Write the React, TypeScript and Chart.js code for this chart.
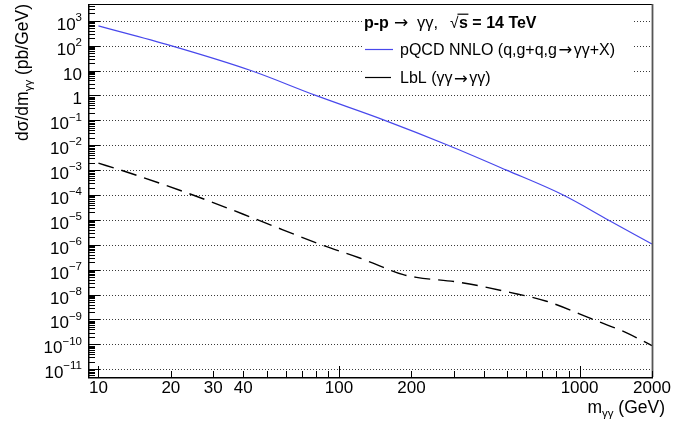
import React, { useEffect, useRef } from 'react';
import { Chart, registerables } from 'chart.js';

Chart.register(...registerables);

// ---- data ----
const massPQCD = [10, 20, 43, 80, 155, 284, 497, 855, 1316, 2000];
const xsecPQCD = [620, 100, 10, 1, 0.1, 0.01, 1e-3, 1e-4, 1e-5, 1.07e-6];

const massLbL = [10, 12.4, 24.7, 46, 84.5, 122, 141, 185, 210, 318, 513, 729, 1140, 1570, 2000];
const xsecLbL = [1.9e-3, 1e-3, 1e-4, 1e-5, 1e-6, 2.95e-7, 1.7e-7, 6.3e-8, 4.9e-8, 3.1e-8, 1.23e-8, 5.4e-9, 1e-9, 2.9e-10, 8.9e-11];

const yDecadeExponents = [3, 2, 1, 0, -1, -2, -3, -4, -5, -6, -7, -8, -9, -10, -11];
const xTickLabels = [10, 20, 30, 40, 100, 200, 1000, 2000];
const xMajorTicks = [10, 100, 1000];

const labelPQCD = 'pQCD NNLO (q,g+q,g\u2192\u03b3\u03b3+X)';
const labelLbL = 'LbL (\u03b3\u03b3\u2192\u03b3\u03b3)';

const X_MIN = 9.05;
const X_MAX = 2020;
const Y_MIN = 4.9e-12;
const Y_MAX = 4700;

const BLUE = 'rgb(72,72,236)';
const FONT = '"Liberation Sans", Arial, Helvetica, sans-serif';
const ARROW_FONT = '"DejaVu Sans", sans-serif';

type Part = { text: string; font: string; dy?: number; overline?: boolean; pad?: number; at?: number };

function richWidth(ctx: CanvasRenderingContext2D, parts: Part[]) {
  let w = 0;
  for (const p of parts) {
    ctx.font = p.font;
    w += ctx.measureText(p.text).width + 2 * (p.pad || 0);
  }
  return w;
}

function drawRich(ctx: CanvasRenderingContext2D, parts: Part[], x: number, y: number, align: 'left' | 'right' | 'center') {
  const w = richWidth(ctx, parts);
  let cx = align === 'left' ? x : align === 'right' ? x - w : x - w / 2;
  ctx.textAlign = 'left';
  ctx.textBaseline = 'alphabetic';
  for (const p of parts) {
    ctx.font = p.font;
    if (p.at !== undefined) cx = p.at;
    const pad = p.pad || 0;
    cx += pad;
    const pw = ctx.measureText(p.text).width;
    ctx.fillText(p.text, cx, y + (p.dy || 0));
    if (p.overline) {
      ctx.save();
      ctx.lineWidth = 1.2;
      ctx.beginPath();
      ctx.moveTo(cx - 1.5, y - 13.3);
      ctx.lineTo(cx + pw + 0.5, y - 13.3);
      ctx.stroke();
      ctx.restore();
    }
    cx += pw + pad;
  }
}

function expParts(e: number): Part[] {
  if (e === 0) return [{ text: '1', font: `17px ${FONT}` }];
  if (e === 1) return [{ text: '10', font: `17px ${FONT}` }];
  const s = e < 0 ? '\u2212' + String(-e) : String(e);
  return [
    { text: '10', font: `17px ${FONT}` },
    { text: s, font: `11.5px ${FONT}`, dy: -8.8 },
  ];
}

function entryParts(text: string): Part[] {
  const pieces = text.split('\u2192');
  const parts: Part[] = [];
  pieces.forEach((p, i) => {
    if (i > 0) parts.push({ text: '\u2192', font: `16.5px ${ARROW_FONT}`, dy: 0.5, pad: 1.5 });
    parts.push({ text: p, font: `16px ${FONT}` });
  });
  return parts;
}

const rootDecor = {
  id: 'rootDecor',
  beforeDatasetsDraw(chart: any) {
    const { ctx, chartArea: a, scales } = chart;
    const y = scales.y;
    ctx.save();
    ctx.fillStyle = '#ffffff';
    ctx.fillRect(0, 0, chart.width, chart.height);
    ctx.strokeStyle = '#3a3a3a';
    ctx.lineWidth = 1;
    ctx.setLineDash([1, 2]);
    for (const e of yDecadeExponents) {
      const py = Math.round(y.getPixelForValue(Math.pow(10, e))) + 0.5;
      ctx.beginPath();
      ctx.moveTo(a.left, py);
      ctx.lineTo(a.right, py);
      ctx.stroke();
    }
    ctx.restore();
  },
  afterDatasetsDraw(chart: any) {
    const { ctx, chartArea: a, scales } = chart;
    const x = scales.x;
    const y = scales.y;
    ctx.save();

    // legend box
    ctx.fillStyle = '#ffffff';
    ctx.fillRect(362, 6, 272, 82);
    ctx.fillStyle = '#000000';
    ctx.strokeStyle = '#000000';
    drawRich(
      ctx,
      [
        { text: 'p-p', font: `bold 16px ${FONT}`, at: 364 },
        { text: '\u2192', font: `17px ${ARROW_FONT}`, dy: 0.5, at: 394 },
        { text: '\u03b3\u03b3,', font: `16.5px ${FONT}`, at: 417 },
        { text: '\u221a', font: `15.5px ${FONT}`, at: 450 },
        { text: 's', font: `bold 16px ${FONT}`, overline: true, at: 459 },
        { text: ' = 14 TeV', font: `bold 16px ${FONT}` },
      ],
      364,
      27.5,
      'left'
    );
    ctx.lineWidth = 1.2;
    ctx.strokeStyle = BLUE;
    ctx.beginPath();
    ctx.moveTo(365, 49.5);
    ctx.lineTo(393, 49.5);
    ctx.stroke();
    ctx.strokeStyle = '#000000';
    ctx.beginPath();
    ctx.moveTo(365, 77.5);
    ctx.lineTo(391, 77.5);
    ctx.stroke();
    drawRich(ctx, entryParts(labelPQCD), 400, 54.5, 'left');
    drawRich(ctx, entryParts(labelLbL), 400, 83, 'left');

    // frame
    ctx.setLineDash([]);
    ctx.strokeStyle = '#000000';
    ctx.lineWidth = 1;
    ctx.strokeRect(a.left + 0.5, a.top + 0.5, a.right - a.left - 1, a.bottom - a.top);
    ctx.lineWidth = 1.5;
    ctx.beginPath();
    ctx.moveTo(a.left + 0.75, a.top);
    ctx.lineTo(a.left + 0.75, a.bottom + 0.75);
    ctx.lineTo(a.right, a.bottom + 0.75);
    ctx.stroke();
    ctx.lineWidth = 1.8;
    ctx.strokeStyle = '#555555';
    ctx.beginPath();
    ctx.moveTo(a.right - 0.5, a.top);
    ctx.lineTo(a.right - 0.5, a.bottom);
    ctx.stroke();

    // y ticks
    ctx.strokeStyle = '#000000';
    ctx.lineWidth = 1;
    for (let e = -12; e <= 3; e++) {
      for (let k = 1; k <= 9; k++) {
        const v = k * Math.pow(10, e);
        if (v < Y_MIN || v > Y_MAX) continue;
        const py = Math.round(y.getPixelForValue(v)) + 0.5;
        const len = k === 1 ? 12 : 7;
        ctx.beginPath();
        ctx.moveTo(a.left, py);
        ctx.lineTo(a.left + len, py);
        ctx.stroke();
      }
    }
    // x ticks
    for (let e = 0; e <= 3; e++) {
      for (let k = 1; k <= 9; k++) {
        const v = k * Math.pow(10, e);
        if (v < X_MIN || v > X_MAX) continue;
        const px = Math.round(x.getPixelForValue(v)) + 0.5;
        const len = xMajorTicks.includes(v) ? 11 : 6;
        ctx.beginPath();
        ctx.moveTo(px, a.bottom);
        ctx.lineTo(px, a.bottom - len);
        ctx.stroke();
      }
    }

    // y tick labels
    ctx.fillStyle = '#000000';
    for (const e of yDecadeExponents) {
      const py = y.getPixelForValue(Math.pow(10, e));
      drawRich(ctx, expParts(e), 82, py + 9, 'right');
    }
    // x tick labels
    ctx.font = `17px ${FONT}`;
    ctx.textAlign = 'center';
    ctx.textBaseline = 'alphabetic';
    for (const v of xTickLabels) {
      const px = x.getPixelForValue(v);
      ctx.fillText(String(v), px, 393);
    }

    // x title
    drawRich(
      ctx,
      [
        { text: 'm', font: `17.5px ${FONT}` },
        { text: '\u03b3\u03b3', font: `11.5px ${FONT}`, dy: 3.5 },
        { text: ' (GeV)', font: `17.5px ${FONT}` },
      ],
      665,
      413,
      'right'
    );

    // y title (rotated)
    ctx.save();
    ctx.translate(28, 4);
    ctx.rotate(-Math.PI / 2);
    drawRich(
      ctx,
      [
        { text: 'd\u03c3/dm', font: `17.5px ${FONT}` },
        { text: '\u03b3\u03b3', font: `11.5px ${FONT}`, dy: 3.5 },
        { text: ' (pb/GeV)', font: `17.5px ${FONT}` },
      ],
      0,
      0,
      'right'
    );
    ctx.restore();

    ctx.restore();
  },
};

export default function App() {
  const canvasRef = useRef<HTMLCanvasElement | null>(null);

  useEffect(() => {
    document.body.style.margin = '0';
    const canvas = canvasRef.current;
    if (!canvas) return;
    const chart = new Chart(canvas, {
      type: 'line',
      data: {
        datasets: [
          {
            label: labelPQCD,
            data: massPQCD.map((m, i) => ({ x: m, y: xsecPQCD[i] })),
            borderColor: BLUE,
            borderWidth: 1.2,
            pointRadius: 0,
            fill: false,
            cubicInterpolationMode: 'monotone',
          },
          {
            label: labelLbL,
            data: massLbL.map((m, i) => ({ x: m, y: xsecLbL[i] })),
            borderColor: '#000000',
            borderWidth: 1.4,
            borderDash: [16, 8],
            pointRadius: 0,
            fill: false,
            cubicInterpolationMode: 'monotone',
          },
        ],
      },
      options: {
        animation: false,
        responsive: false,
        devicePixelRatio: 1,
        layout: { padding: { left: 88, right: 47, top: 4, bottom: 49 } },
        plugins: {
          legend: { display: false },
          tooltip: { enabled: false },
          title: { display: false },
        },
        scales: {
          x: { type: 'logarithmic', min: X_MIN, max: X_MAX, display: false },
          y: { type: 'logarithmic', min: Y_MIN, max: Y_MAX, display: false },
        },
      },
      plugins: [rootDecor],
    } as any);
    return () => chart.destroy();
  }, []);

  return (
    <div style={{ width: 700, height: 426 }}>
      <canvas ref={canvasRef} width={700} height={426} style={{ display: 'block' }} />
    </div>
  );
}
